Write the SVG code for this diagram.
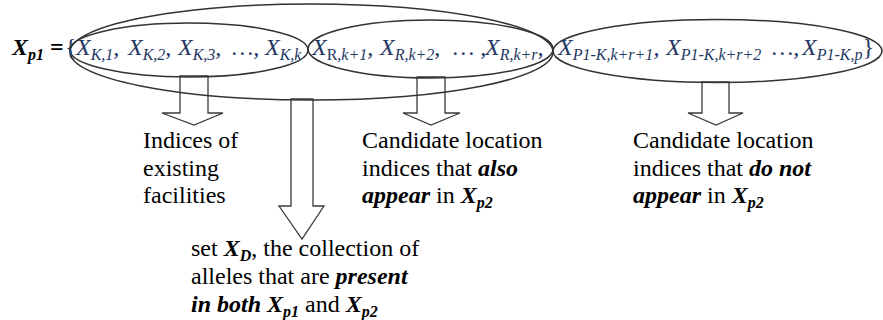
<svg xmlns="http://www.w3.org/2000/svg" width="883" height="320" viewBox="0 0 883 320">
<style>
text{font-family:'Liberation Serif','DejaVu Serif','Noto Serif','Times New Roman',serif;font-size:24px;fill:#000}
.set{fill:#1f3864;font-style:italic}
.sub{font-size:16px}
.bi{font-weight:bold;font-style:italic}
.up{font-style:normal}
.ell{fill:none;stroke:#333;stroke-width:1.5}
.arr{fill:#fff;stroke:#3a3a3a;stroke-width:1.3;stroke-linejoin:miter}
</style>
<rect width="883" height="320" fill="#fff"/>
<g id="connectors">
<polygon class="arr" points="180,76 208,76 208,113 223,113 194,125 162,113 180,113"/>
<polygon class="arr" points="291,99 313,99 313,206 324,206 302,239 279,206 291,206"/>
<polygon class="arr" points="417,77 445,77 445,113 460,113 431,125 403,113 417,113"/>
<polygon class="arr" points="702,82 729,82 729,113 743,113 716,125 688,113 702,113"/>
</g>
<g id="set-D"><ellipse class="ell" cx="311.5" cy="52" rx="241.5" ry="48"/></g>
<g id="set-K"><ellipse class="ell" cx="189" cy="50" rx="119" ry="27"/></g>
<g id="set-R"><ellipse class="ell" cx="430.5" cy="49" rx="122.5" ry="29"/></g>
<g id="set-P"><ellipse class="ell" cx="717.5" cy="51" rx="164.5" ry="31.5"/></g>
<g id="xp1-row">
<text x="12" y="55"><tspan class="bi">X</tspan><tspan class="bi sub" dy="5">p1</tspan><tspan font-weight="bold" dy="-5"> =</tspan></text>
<text class="set" y="55">
<tspan class="up" x="65">{</tspan><tspan x="76">X</tspan><tspan class="sub" dy="5">K,1</tspan><tspan dy="-5">,</tspan>
<tspan x="128">X</tspan><tspan class="sub" dy="5">K,2</tspan><tspan dy="-5">,</tspan>
<tspan x="178">X</tspan><tspan class="sub" dy="5">K,3</tspan><tspan dy="-5">,</tspan>
<tspan x="232">…,</tspan>
<tspan x="265">X</tspan><tspan class="sub" dy="5">K,k</tspan>
<tspan x="312" dy="-5">X</tspan><tspan class="sub" dy="5"><tspan class="up">R</tspan>,k+1</tspan><tspan dy="-5">,</tspan>
<tspan x="380">X</tspan><tspan class="sub" dy="5">R,k+2</tspan><tspan dy="-5">,</tspan>
<tspan x="453">… ,</tspan>
<tspan x="485">X</tspan><tspan class="sub" dy="5">R,k+r</tspan><tspan dy="-5">,</tspan>
<tspan x="558">X</tspan><tspan class="sub" dy="5">P1-K,k+r+1</tspan><tspan dy="-5">,</tspan>
<tspan x="666">X</tspan><tspan class="sub" dy="5">P1-K,k+r+2</tspan>
<tspan x="772" dy="-5">…,</tspan>
<tspan x="802">X</tspan><tspan class="sub" dy="5">P1-K,p</tspan><tspan class="up" dy="-5">}</tspan>
</text>
</g>
<g id="label-existing">
<text x="143" y="148">Indices of</text>
<text x="143" y="175.5">existing</text>
<text x="143" y="203">facilities</text>
</g>
<g id="label-also">
<text x="362" y="148">Candidate location</text>
<text x="362" y="175.5">indices that <tspan class="bi">also</tspan></text>
<text x="362" y="203"><tspan class="bi">appear</tspan> in <tspan class="bi">X</tspan><tspan class="bi sub" dy="5">p2</tspan></text>
</g>
<g id="label-notappear">
<text x="633" y="148">Candidate location</text>
<text x="633" y="175.5">indices that <tspan class="bi">do not</tspan></text>
<text x="633" y="203"><tspan class="bi">appear</tspan> in <tspan class="bi">X</tspan><tspan class="bi sub" dy="5">p2</tspan></text>
</g>
<g id="label-xd">
<text x="191" y="256">set <tspan class="bi">X</tspan><tspan class="bi sub" dy="5">D</tspan><tspan dy="-5">, the collection of</tspan></text>
<text x="191" y="284">alleles that are <tspan class="bi">present</tspan></text>
<text x="191" y="312"><tspan class="bi">in both X</tspan><tspan class="bi sub" dy="5">p1</tspan><tspan dy="-5"> and </tspan><tspan class="bi">X</tspan><tspan class="bi sub" dy="5">p2</tspan></text>
</g>
</svg>
